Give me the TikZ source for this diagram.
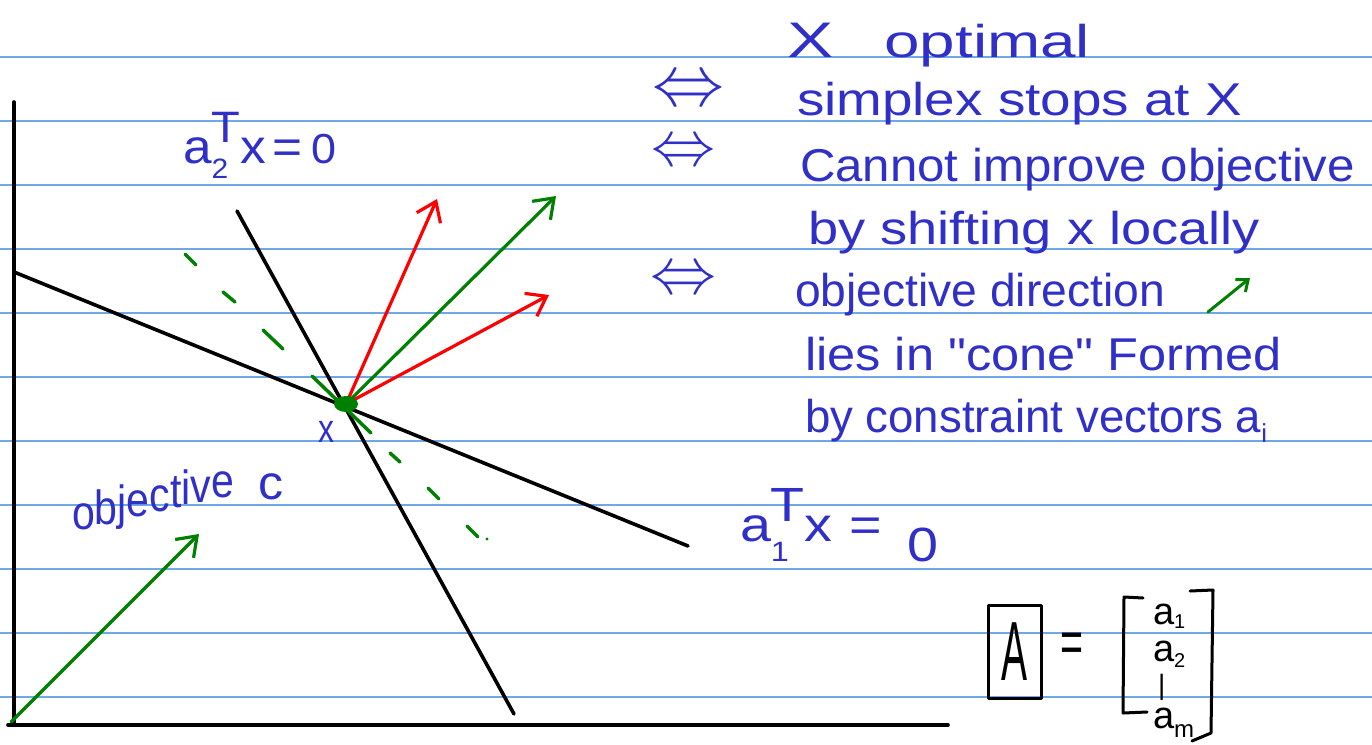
\documentclass[tikz,border=0pt]{standalone}
\usepackage{fontspec}
\usepackage{graphicx}
\usetikzlibrary{arrows.meta}
\newfontfamily\hand{Liberation Sans}
\definecolor{ink}{RGB}{48,48,200}
\definecolor{ruleblue}{RGB}{110,168,232}
\definecolor{gr}{RGB}{0,128,0}
\definecolor{rd}{RGB}{255,0,0}
\newcommand\fitw[2]{\resizebox{#1}{\height}{#2}}
\newcommand\fs[1]{\fontsize{#1}{#1}\selectfont}
\newcommand\up[2]{\raisebox{#1}{#2}}
\begin{document}
\begin{tikzpicture}[x=1pt,y=-1pt,line cap=round,line join=round,
 ruleline/.style={draw=ruleblue,line width=1.6pt,line cap=butt},
 blackline/.style={draw=black,line width=3.6pt},
 vec/.style={line width=3.2pt,-{Straight Barb[length=18pt,width=26pt]}},
 dashseg/.style={draw=gr,line width=3.5pt},
 hw/.style={inner sep=0pt,outer sep=0pt,text=ink,anchor=base west,font=\hand\fs{46pt}},
 bk/.style={inner sep=0pt,outer sep=0pt,text=black,anchor=base west,font=\hand\fs{38pt}},
 iff/.style={inner sep=0pt,outer sep=0pt,text=ink,anchor=center,font=\fs{40pt}},
]
\fill[white] (0,0) rectangle (1372,744);
\useasboundingbox (0,0) rectangle (1372,744);
\foreach \k in {0,...,10} \draw[ruleline] (0,{57+64*\k}) -- (1372,{57+64*\k});

% axes
\coordinate (ytop) at (14,102);
\coordinate (corner) at (14,725);
\coordinate (xleft) at (8,725);
\coordinate (xright) at (948,725);
\draw[blackline] (ytop) -- (corner);
\draw[blackline] (xleft) -- (xright);

% constraint lines
\coordinate (P) at (346,404);
\coordinate (a1s) at (14,272);
\coordinate (a1e) at (688,546);
\coordinate (a2s) at (237,211);
\coordinate (a2e) at (514,714);
\draw[blackline] (a1s) -- (a1e);
\draw[blackline] (a2s) -- (a2e);

% green dashed level line
\foreach \xa/\ya/\xb/\yb in {185/254/196/265, 223/292/235/302, 263/330/283/349, 312/376/371/433, 390/453/400/462, 428/488/439/499, 467/526/478/537}
  \draw[dashseg] (\xa,\ya) -- (\xb,\yb);
\fill[gr] (487,539) circle[radius=1.6pt];

% vectors
\coordinate (r1) at (437,199);
\coordinate (g1) at (556,196);
\coordinate (r2) at (549,295);
\draw[vec,rd] (P) -- (r1);
\draw[vec,gr] (P) -- (g1);
\draw[vec,rd] (P) -- (r2);
\coordinate (c0) at (11,722);
\coordinate (c1) at (199,534);
\draw[vec,gr] (c0) -- (c1);
\fill[gr] (P) ellipse[x radius=12pt,y radius=8pt];

% labels on the left
\node[hw,font=\hand\fs{48pt}] (lab2) at (183,163) {\fitw{153pt}{a\rlap{\raisebox{-15pt}{\fs{28pt}2}}\raisebox{21pt}{\fs{44pt}T}x\hspace{6pt}=\hspace{8pt}{\fs{42pt}0}}};
\node[hw,font=\hand\fs{48pt}] (lab1) at (740,541) {\fitw{198pt}{a\rlap{\raisebox{-20pt}{\fs{28pt}1}}\raisebox{20pt}{\fs{48pt}T}x\hspace{14pt}=\hspace{22pt}\raisebox{-20pt}{0}}};
\node[hw,font=\hand\fs{40pt}] (xl) at (318,442) {\fitw{16pt}{x}};
\node[hw,font=\hand\fs{48pt}] (objl) at (72,529) {\fitw{162pt}{\up{0pt}{o}\up{5pt}{b}\up{10pt}{j}\up{12.5pt}{e}\up{17.5pt}{c}\up{22pt}{t}\up{25pt}{i}\up{27pt}{v}\up{31.5pt}{e}}};
\node[hw,font=\hand\fs{48pt}] (objc) at (258,499) {\fitw{25pt}{c}};

% right-hand text
\node[hw] (t1) at (787,57) {\fitw{303pt}{{\fs{50pt}X}\hspace{0.8em}optimal}};
\node[iff] (iff1) at (688,92) {\resizebox{72pt}{!}{$\Leftrightarrow$}};
\node[hw] (t2) at (797,115) {\fitw{445pt}{simplex stops at X}};
\node[iff] (iff2) at (683,154) {\resizebox{64pt}{!}{$\Leftrightarrow$}};
\node[hw] (t3) at (800,181) {\fitw{555pt}{Cannot improve objective}};
\node[hw] (t4) at (808,244) {\fitw{452pt}{by shifting x locally}};
\node[iff] (iff3) at (683,281) {\resizebox{66pt}{!}{$\Leftrightarrow$}};
\node[hw] (t5) at (795,306) {\fitw{370pt}{objective direction}};
\coordinate (gs) at (1208,312);
\coordinate (ge) at (1250,278);
\draw[gr,line width=3pt,-{Straight Barb[length=10pt,width=16pt]}] (gs) -- (ge);
\node[hw] (t6) at (805,370) {\fitw{477pt}{lies in "cone" Formed}};
\node[hw] (t7) at (805,432) {\fitw{462pt}{by constraint vectors a\raisebox{-10pt}{\fs{26pt}i}}};

% matrix A
\node[draw=black,line width=3pt,minimum width=53pt,minimum height=93pt,inner sep=0pt,font=\hand\fs{84pt}] (Abox) at (1014.5,651.5) {\fitw{26pt}{A}};
\node[inner sep=0pt,font=\hand\fs{60pt}] (eq) at (1072,648) {\fitw{23pt}{=}};
\draw[black,line width=3pt] (1143,598) -- (1124,597) -- (1123,713) -- (1147,712);
\draw[black,line width=3pt] (1190,591) -- (1213,590) -- (1211,733) -- (1192,741);
\node[bk] (m1) at (1153,624) {a\raisebox{-4pt}{\fs{20pt}1}};
\node[bk] (m2) at (1153,661) {a\raisebox{-6pt}{\fs{20pt}2}};
\node[bk,font=\hand\fs{28pt}] (m3) at (1158,694) {|};
\node[bk] (m4) at (1153,728) {a\raisebox{-9pt}{\fs{24pt}m}};
\end{tikzpicture}
\end{document}
